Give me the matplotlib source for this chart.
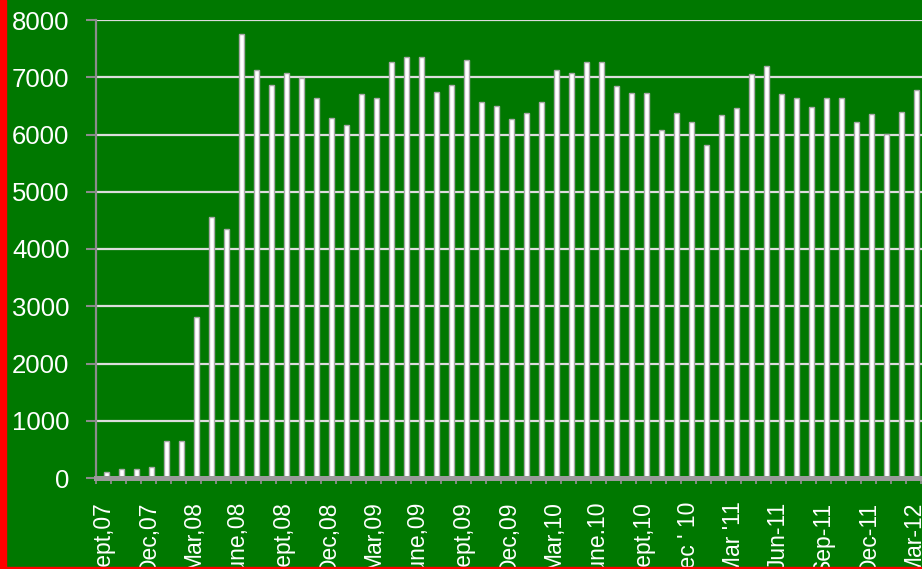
import numpy as np
import matplotlib
matplotlib.use('Agg')
import matplotlib.pyplot as plt
from matplotlib.patches import Rectangle

# monthly counts, one bar per month from Sept 07
values = [110, 150, 150, 190, 640, 640, 2810, 4560, 4350, 7760,
          7130, 6870, 7070, 6990, 6640, 6280, 6160, 6710, 6640, 7270,
          7350, 7350, 6750, 6860, 7310, 6570, 6500, 6270, 6370, 6570,
          7130, 7070, 7270, 7270, 6850, 6720, 6720, 6080, 6370, 6220,
          5820, 6340, 6470, 7060, 7200, 6710, 6640, 6480, 6630, 6640,
          6210, 6360, 6010, 6400, 6780]

# labels shown on every third month
month_labels = ['Sept,07', 'Dec,07', 'Mar,08', 'June,08', 'Sept,08', 'Dec,08',
                'Mar,09', 'June,09', 'Sept,09', 'Dec,09', 'Mar,10', 'June.10',
                'Sept,10', "Dec ' 10", "Mar '11", 'Jun-11', 'Sep-11', 'Dec-11',
                'Mar-12']
label_step = 3

y_ticks = [0, 1000, 2000, 3000, 4000, 5000, 6000, 7000, 8000]

green = '#007800'
axis_grey = '#8c8c8c'

plt.rcParams['font.family'] = ['Liberation Sans', 'DejaVu Sans']

fig = plt.figure(figsize=(9.22, 5.69), dpi=100, facecolor=green)
ax = fig.add_axes([96 / 922, 91 / 569, 826 / 922, 458 / 569])
ax.set_facecolor(green)

x = np.arange(len(values))
ax.bar(x + 0.2, values, width=0.3, color='white', edgecolor='#a8a8a8',
       linewidth=1, zorder=3)

ax.set_xlim(-0.5, 54.57)
ax.set_ylim(0, 8000)

# gridlines behind the bars
ax.set_yticks(y_ticks)
ax.yaxis.grid(True, color='#dcdcdc', linewidth=1.6, zorder=1)
ax.set_axisbelow(True)

for side in ['top', 'right']:
    ax.spines[side].set_visible(False)
ax.spines['left'].set_color(axis_grey)
ax.spines['left'].set_linewidth(1.6)
ax.spines['bottom'].set_color('#9a9a9a')
ax.spines['bottom'].set_linewidth(3.6)
ax.spines['bottom'].set_zorder(4)

ax.tick_params(axis='y', direction='out', length=7, width=1.5, color=axis_grey,
               labelcolor='white', labelsize=18.5, pad=12)

# labels at every third month, small ticks between all months
ax.set_xticks(x[::label_step])
ax.set_xticklabels(month_labels, rotation=90, ha='center', va='top')
ax.set_xticks(np.arange(-0.5, len(values) + 0.5, 1), minor=True)
ax.tick_params(axis='x', which='major', length=0, labelcolor='white',
               labelsize=16.5, pad=17)
ax.tick_params(axis='x', which='minor', direction='out', length=4.5,
               width=1.3, color=axis_grey)

# red frame on left and bottom edges
fig.patches.append(Rectangle((0, 0), 6 / 922, 1, transform=fig.transFigure,
                             color='#ff0000', zorder=10))
fig.patches.append(Rectangle((0, 0), 1, 2.5 / 569, transform=fig.transFigure,
                             color='#ff0000', zorder=10))

fig.savefig('out.png', dpi=100, facecolor=green)
